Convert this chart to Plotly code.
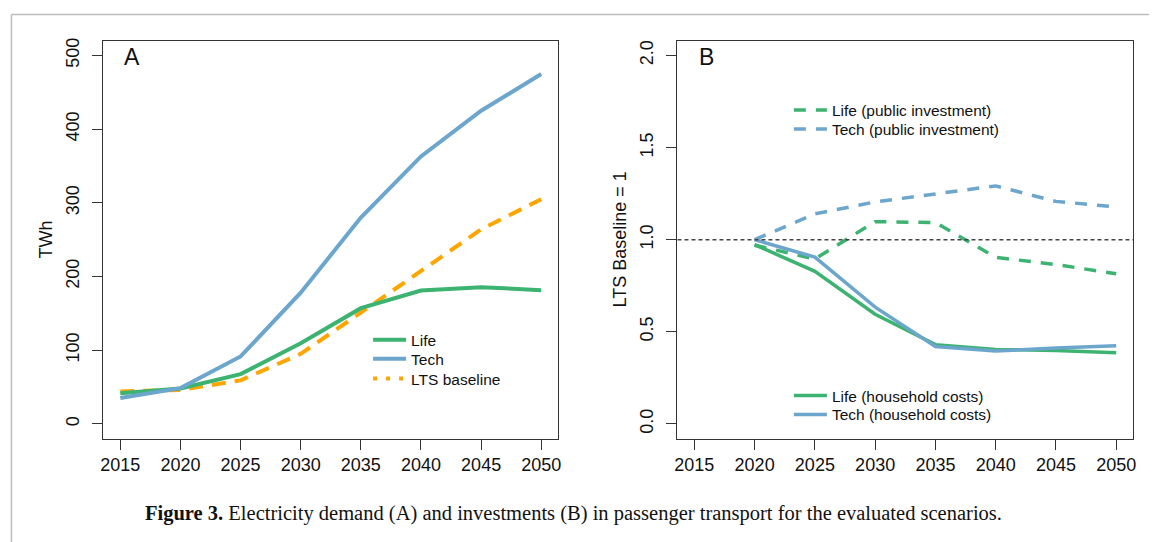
import plotly.graph_objects as go

# ---------------- data ----------------
years = [2015, 2020, 2025, 2030, 2035, 2040, 2045, 2050]
life_twh = [41.5, 48, 67.5, 109.5, 157, 181, 185.5, 181.5]
tech_twh = [35, 48.5, 91.5, 178, 280, 363, 425, 475]
lts_twh = [44, 46, 59, 95, 151, 208, 264, 305]

years_b = [2020, 2025, 2030, 2035, 2040, 2045, 2050]
life_public = [0.97, 0.895, 1.098, 1.093, 0.904, 0.865, 0.815]
tech_public = [1.0, 1.14, 1.205, 1.248, 1.292, 1.208, 1.178]
life_household = [0.973, 0.828, 0.595, 0.43, 0.404, 0.398, 0.386]
tech_household = [1.0, 0.905, 0.634, 0.42, 0.395, 0.412, 0.424]

baseline = 1.0

a_yticks = [0, 100, 200, 300, 400, 500]
b_yticks = [0, 0.5, 1.0, 1.5, 2.0]
b_yticktext = ["0.0", "0.5", "1.0", "1.5", "2.0"]

caption = ("<b>Figure 3.</b> Electricity demand (A) and investments (B) in "
           "passenger transport for the evaluated scenarios.")

# ---------------- style ----------------
W, H = 1152, 542
GREEN = "#3CB371"
BLUE = "#6CA6CD"
ORANGE = "#FFA500"
FRAME = "#333333"
FONT = "Liberation Sans, Arial, sans-serif"


def px(x):
    return x / W


def py(y):
    return 1 - y / H


fig = go.Figure()

# Panel A
fig.add_trace(go.Scatter(x=years, y=lts_twh, mode="lines", showlegend=False,
                         line=dict(color=ORANGE, width=4, dash="14px,9px"),
                         xaxis="x", yaxis="y"))
fig.add_trace(go.Scatter(x=years, y=life_twh, mode="lines", name="Life",
                         line=dict(color=GREEN, width=4), legend="legend",
                         xaxis="x", yaxis="y"))
fig.add_trace(go.Scatter(x=years, y=tech_twh, mode="lines", name="Tech",
                         line=dict(color=BLUE, width=4), legend="legend2",
                         xaxis="x", yaxis="y"))
fig.add_trace(go.Scatter(x=[None], y=[None], mode="lines", name="LTS baseline",
                         line=dict(color=ORANGE, width=4, dash="4px,9px"),
                         legend="legend3", xaxis="x", yaxis="y"))

# Panel B
fig.add_trace(go.Scatter(x=years_b, y=life_public, mode="lines",
                         name="Life (public investment)",
                         line=dict(color=GREEN, width=3.5, dash="12px,10px"),
                         legend="legend4", xaxis="x2", yaxis="y2"))
fig.add_trace(go.Scatter(x=years_b, y=tech_public, mode="lines",
                         name="Tech (public investment)",
                         line=dict(color=BLUE, width=3.5, dash="12px,10px"),
                         legend="legend5", xaxis="x2", yaxis="y2"))
fig.add_trace(go.Scatter(x=years_b, y=life_household, mode="lines",
                         name="Life (household costs)",
                         line=dict(color=GREEN, width=3.5),
                         legend="legend6", xaxis="x2", yaxis="y2"))
fig.add_trace(go.Scatter(x=years_b, y=tech_household, mode="lines",
                         name="Tech (household costs)",
                         line=dict(color=BLUE, width=3.5),
                         legend="legend7", xaxis="x2", yaxis="y2"))

axis_common = dict(showgrid=False, zeroline=False, showline=True, mirror=True,
                   linecolor=FRAME, linewidth=1.3, ticks="outside", ticklen=10,
                   tickwidth=1.3, tickcolor=FRAME,
                   tickfont=dict(family=FONT, size=18, color="#111111"))

xdom_a = [px(101), px(558)]
xdom_b = [px(678), px(1136)]
ydom = [py(438), py(38)]

legend_common = dict(bgcolor="rgba(0,0,0,0)", borderwidth=0,
                     font=dict(family=FONT, size=15.5, color="#111111"),
                     xanchor="left", yanchor="top", itemwidth=33,
                     tracegroupgap=0)

LEG_OFF = 19  # distance from legend box top to first row centre
leg_a_x = px(367)
leg_b_x = px(790)

fig.update_layout(
    width=W, height=H,
    margin=dict(l=0, r=0, t=0, b=0),
    paper_bgcolor="white", plot_bgcolor="white",
    hovermode=False,
    xaxis=dict(domain=xdom_a, range=[2013.6, 2051.4], tickvals=years,
               anchor="y", **axis_common),
    yaxis=dict(domain=ydom, range=[-20, 520], tickvals=a_yticks,
               tickangle=-90, anchor="x", ticklabelstandoff=6, **axis_common),
    xaxis2=dict(domain=xdom_b, range=[2013.6, 2051.4], tickvals=years,
                anchor="y2", **axis_common),
    yaxis2=dict(domain=ydom, range=[-0.08, 2.08], tickvals=b_yticks,
                ticktext=b_yticktext, tickangle=-90, anchor="x2",
                ticklabelstandoff=6, **axis_common),
    legend=dict(x=leg_a_x, y=py(341 - LEG_OFF), **legend_common),
    legend2=dict(x=leg_a_x, y=py(360 - LEG_OFF), **legend_common),
    legend3=dict(x=leg_a_x, y=py(380 - LEG_OFF), **legend_common),
    legend4=dict(x=leg_b_x, y=py(110 - LEG_OFF), **legend_common),
    legend5=dict(x=leg_b_x, y=py(129 - LEG_OFF), **legend_common),
    legend6=dict(x=leg_b_x, y=py(397 - LEG_OFF), **legend_common),
    legend7=dict(x=leg_b_x, y=py(416 - LEG_OFF), **legend_common),
)

# reference line at baseline = 1
fig.add_shape(type="line", xref="x2 domain", yref="y2", x0=0, x1=1,
              y0=baseline, y1=baseline,
              line=dict(color="#444444", width=1.5, dash="4px,3px"))

# outer figure frame (top and left edges)
fig.add_shape(type="line", xref="paper", yref="paper", x0=px(8.5), x1=1,
              y0=py(11.5), y1=py(11.5), line=dict(color="#BDBDBD", width=1.5))
fig.add_shape(type="line", xref="paper", yref="paper", x0=px(8.5), x1=px(8.5),
              y0=py(11.5), y1=0, line=dict(color="#BDBDBD", width=1.5))

ann_font = dict(family=FONT, size=18, color="#111111")
fig.add_annotation(text="TWh", xref="paper", yref="paper", x=px(43), y=py(238),
                   textangle=-90, showarrow=False, font=ann_font,
                   xanchor="center", yanchor="middle")
fig.add_annotation(text="LTS Baseline = 1", xref="paper", yref="paper",
                   x=px(620), y=py(238), textangle=-90, showarrow=False,
                   font=ann_font, xanchor="center", yanchor="middle")
fig.add_annotation(text="A", xref="paper", yref="paper", x=px(130), y=py(54),
                   showarrow=False, font=dict(family=FONT, size=23, color="#111111"),
                   xanchor="center", yanchor="middle")
fig.add_annotation(text="B", xref="paper", yref="paper", x=px(707), y=py(54),
                   showarrow=False, font=dict(family=FONT, size=23, color="#111111"),
                   xanchor="center", yanchor="middle")
fig.add_annotation(text=caption, xref="paper", yref="paper", x=px(573), y=py(513),
                   showarrow=False,
                   font=dict(family="Liberation Serif, Times New Roman, serif",
                             size=20.5, color="#111111"),
                   xanchor="center", yanchor="middle")

fig.write_html("out.html", config={"displayModeBar": False},
               post_script="document.body.style.margin='0';"
                           "document.body.style.overflow='hidden';")
